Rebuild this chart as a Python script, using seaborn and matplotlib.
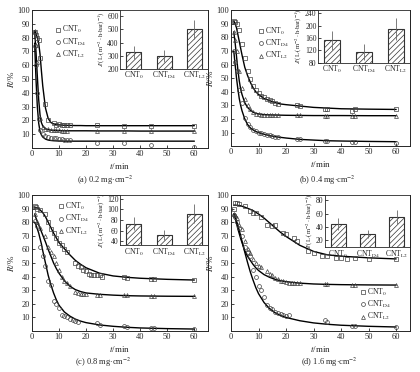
import numpy as np
import seaborn as sns
import matplotlib.pyplot as plt

# common time grid of the fitted curves (min)
fit_t = [1, 1.5, 2, 2.5, 3, 3.5, 4, 5, 6, 7, 8, 9, 10, 12, 14, 16, 18, 20, 25, 30, 35, 40, 50, 60]

# ---- (a) 0.2 mg/cm2
a_fit0 = [85, 83, 80, 76, 68, 56, 45, 29, 21.5, 18.5, 17.5, 17, 16.8, 16.5, 16.4, 16.3, 16.3, 16.2, 16.2, 16.2, 16.2, 16.2, 16.2, 16.2]
a_fitd4 = [76, 50, 30, 18, 12, 9.5, 8, 6.5, 5.8, 5.5, 5.3, 5.2, 5.1, 5, 5, 5, 5, 5, 5, 5, 5, 5, 5, 5]
a_fitl2 = [85, 70, 52, 35, 24, 18.5, 16, 14, 13.3, 13, 12.8, 12.7, 12.6, 12.5, 12.5, 12.5, 12.5, 12.5, 12.4, 12.4, 12.4, 12.3, 12.3, 12.3]
a_t0 = [1, 1.5, 2, 2.5, 3, 5, 6, 8, 9, 10, 11, 12, 13, 14, 24, 34, 44, 60]
a_r0 = [84, 82, 80, 78, 65, 32, 20, 18, 17, 17.5, 17, 16.5, 17, 16.8, 16.5, 16, 16, 16]
a_td4 = [1, 1.5, 2, 2.5, 3, 4, 5, 6, 7, 8, 9, 10, 11, 12, 13, 14, 24, 34, 44, 60]
a_rd4 = [74, 60, 40, 21, 13, 10, 8.5, 8, 7.5, 7, 7, 6.5, 6.5, 6, 6, 6, 4, 3.5, 2, 1]
a_tl2 = [1, 1.5, 2, 3, 4, 5, 6, 7, 8, 9, 10, 11, 12, 13, 24, 34, 44, 60]
a_rl2 = [85, 75, 62, 22, 15, 14, 13.5, 13, 13, 13, 12.8, 12.5, 12.5, 12.5, 12.5, 12, 12, 12]

# ---- (b) 0.4 mg/cm2
b_fit0 = [92, 90, 87, 82, 77, 72, 67, 58, 52, 47, 43, 40, 38, 35, 33.5, 32, 31, 30.5, 29.5, 28.5, 28, 27.5, 27.2, 27]
b_fitd4 = [70, 60, 50, 42, 35, 30, 26, 20, 16, 13.5, 12, 10.8, 10, 8.8, 7.8, 7, 6.5, 6, 5, 4.5, 4, 3.8, 3.5, 3.3]
b_fitl2 = [84, 76, 66, 56, 48, 42, 38, 32, 28.5, 26.5, 25, 24.2, 23.7, 23.2, 23, 22.9, 22.8, 22.7, 22.6, 22.5, 22.5, 22.5, 22.4, 22.4]
b_t = [1, 1.5, 2, 3, 4, 5, 6, 7, 8, 9, 10, 11, 12, 13, 14, 15, 16, 17, 24, 25, 34, 35, 44, 45, 60]
b_r0 = [92, 91, 90, 85, 75, 65, 55, 49, 44, 41, 39, 37, 36, 35, 34, 33, 32, 31, 30, 29.5, 27, 27, 26, 27, 27]
b_rd4 = [70, 62, 55, 41, 32, 21, 16, 14, 12, 11, 10, 9.5, 9, 8.5, 8, 7.5, 7, 6.5, 5.5, 5, 4, 3.5, 3, 3, 2]
b_rl2 = [84, 78, 70, 55, 43, 35, 30, 27, 25, 24, 23.5, 23, 23, 23, 23, 23, 23, 23, 23, 23, 22.5, 22.5, 22.5, 22.5, 22]

# ---- (c) 0.8 mg/cm2
c_fit0 = [91, 90.8, 90.5, 90, 89, 88, 87, 84, 80, 76, 72, 68.5, 65, 60.5, 56, 52, 49, 46.5, 42.5, 40.5, 39.5, 38.8, 38, 37.5]
c_fitd4 = [80, 78, 75, 72, 68, 64, 59, 50, 41, 34, 28, 23, 19, 14, 11, 8.8, 7.3, 6.2, 4.5, 3.5, 2.8, 2.3, 1.8, 1.5]
c_fitl2 = [86, 83, 80.5, 78, 75.5, 73, 70.5, 65.5, 60, 55, 50, 46, 42.5, 37, 33, 30.5, 29, 28, 27, 26.4, 26, 25.8, 25.6, 25.5]
c_t0 = [1, 1.5, 2, 3, 5, 6, 7, 8, 9, 10, 11, 12, 13, 16, 17, 18, 19, 20, 21, 22, 23, 24, 25, 26, 34, 35, 44, 45, 60]
c_r0 = [92, 91, 90, 89, 86, 80, 75, 72, 68, 65, 63, 60, 58, 50, 48, 47, 45, 44, 42, 41.5, 41, 41, 41.5, 39.5, 40, 39, 38, 38, 37.5]
c_td4 = [1, 2, 3, 4, 5, 6, 7, 8, 9, 10, 11, 12, 13, 14, 15, 16, 17, 24, 25, 34, 35, 44, 45, 60]
c_rd4 = [81, 77, 62, 55, 48, 37, 34, 22, 20, 17, 12, 11, 10, 9, 8, 7.5, 7, 6, 4.5, 3.5, 3, 2, 2, 1.5]
c_tl2 = [1, 2, 3, 5, 6, 7, 8, 9, 10, 11, 12, 13, 14, 16, 17, 18, 19, 20, 24, 25, 34, 35, 44, 45, 60]
c_rl2 = [86, 80, 76, 70, 62, 58, 55, 50, 45, 40, 37, 35, 33, 29, 28, 27.5, 27, 27, 26.5, 26.5, 26.5, 26.5, 26, 26, 26]

# ---- (d) 1.6 mg/cm2
d_fit0 = [92.5, 92.5, 92.4, 92.3, 92.2, 92, 91.7, 91, 90.2, 89.4, 88.5, 87.3, 86, 83, 79.5, 76, 72.5, 69.5, 63, 58.5, 56, 55, 53.8, 53]
d_fitd4 = [86, 84, 81, 77.5, 74, 70, 66, 58, 50.5, 43.5, 37.5, 32, 27.5, 21, 16.5, 13.5, 11.5, 10, 7.6, 6, 5, 4.3, 3.5, 3]
d_fitl2 = [86, 83, 79, 75, 71.5, 68, 65, 59, 55, 52, 49, 46.5, 44.5, 41.5, 39.5, 38, 37, 36.3, 35.2, 34.6, 34.3, 34.1, 33.9, 33.8]
d_t0 = [1, 1.5, 2, 3, 5, 7, 8, 9, 11, 13, 15, 16, 19, 20, 23, 24, 28, 30, 33, 35, 38, 40, 42, 45, 50, 60]
d_r0 = [90, 94, 94, 93, 92, 88, 87, 87, 84, 78, 77, 78, 72, 71, 68, 66, 59, 57, 55, 55, 54, 54, 53, 54, 53, 53]
d_td4 = [1, 1.5, 2, 3, 4, 5, 6, 7, 8, 9, 10, 11, 12, 13, 14, 15, 16, 17, 18, 19, 20, 21, 34, 35, 44, 45, 60]
d_rd4 = [85, 84, 80, 76, 70, 62, 58, 55, 45, 40, 33, 30, 25, 19, 17, 16, 14, 13, 12.5, 12, 11, 12, 8, 7, 4, 3.5, 3]
d_tl2 = [1, 1.5, 2, 3, 4, 5, 6, 7, 8, 9, 10, 11, 13, 14, 15, 16, 17, 18, 19, 20, 21, 22, 23, 24, 25, 34, 35, 44, 45, 60]
d_rl2 = [86, 85, 83, 78, 75, 66, 60, 57, 53, 50, 48, 47, 44, 42, 41, 39, 38, 37, 36.5, 36, 35.5, 35, 35, 35, 35, 34.5, 34.5, 34, 34, 34]

# ---- flux insets
membranes = [r'CNT$_0$', r'CNT$_{\rm D4}$', r'CNT$_{\rm L2}$']
a_flux, a_err = [325, 300, 500], [50, 45, 75]
b_flux, b_err = [152, 115, 190], [30, 25, 35]
c_flux, c_err = [73, 52, 92], [12, 10, 17]
d_flux, d_err = [45, 30, 55], [9, 6, 10]

captions = [r'(a) 0.2 mg$\cdot$cm$^{-2}$', r'(b) 0.4 mg$\cdot$cm$^{-2}$',
            r'(c) 0.8 mg$\cdot$cm$^{-2}$', r'(d) 1.6 mg$\cdot$cm$^{-2}$']

sns.set_theme(style='ticks')
plt.rcParams['font.family'] = ['Liberation Serif', 'DejaVu Serif']
plt.rcParams['mathtext.fontset'] = 'stix'
plt.rcParams['hatch.linewidth'] = 0.5
plt.rcParams['axes.linewidth'] = 0.7

fig = plt.figure(figsize=(4.2, 3.72), dpi=100)

main_pos = [[0.076, 0.602, 0.419, 0.371], [0.55, 0.607, 0.426, 0.366],
            [0.076, 0.110, 0.419, 0.366], [0.55, 0.110, 0.426, 0.366]]
inset_pos = [[0.286, 0.815, 0.2095, 0.159], [0.757, 0.831, 0.219, 0.142],
             [0.286, 0.341, 0.2095, 0.134], [0.774, 0.336, 0.202, 0.140]]
legend_loc = [('upper left', (0.11, 0.93)), ('upper left', (0.13, 0.92)),
              ('upper left', (0.13, 0.99)), ('lower left', (0.70, 0.03))]
caption_xy = [(0.25, 0.516), (0.78, 0.516), (0.245, 0.027), (0.785, 0.027)]

panels = [
    (a_fit0, a_fitd4, a_fitl2, a_t0, a_r0, a_td4, a_rd4, a_tl2, a_rl2, a_flux, a_err, [200, 300, 400, 500, 600], (200, 650)),
    (b_fit0, b_fitd4, b_fitl2, b_t, b_r0, b_t, b_rd4, b_t, b_rl2, b_flux, b_err, [80, 120, 160, 200, 240], (80, 250)),
    (c_fit0, c_fitd4, c_fitl2, c_t0, c_r0, c_td4, c_rd4, c_tl2, c_rl2, c_flux, c_err, [40, 60, 80, 100, 120], (33, 126)),
    (d_fit0, d_fitd4, d_fitl2, d_t0, d_r0, d_td4, d_rd4, d_tl2, d_rl2, d_flux, d_err, [20, 40, 60, 80], (10, 88)),
]

for i, p in enumerate(panels):
    fit0, fitd4, fitl2, t0, r0, td4, rd4, tl2, rl2, flux, err, jticks, jlim = p
    ax = fig.add_axes(main_pos[i])
    for fit in (fit0, fitd4, fitl2):
        sns.lineplot(x=fit_t, y=fit, ax=ax, color='black', lw=1.0, sort=False)
    mk = dict(ls='none', ms=2.8, mfc='none', mew=0.5, color='0.25')
    ax.plot(t0, r0, marker='s', label=membranes[0], **mk)
    ax.plot(td4, rd4, marker='o', label=membranes[1], **mk)
    ax.plot(tl2, rl2, marker='^', label=membranes[2], **mk)
    ax.set_xlim(0, 65)
    ax.set_ylim(0, 100)
    ax.set_xticks([0, 10, 20, 30, 40, 50, 60])
    ax.set_yticks(range(10, 101, 10))
    ax.tick_params(direction='in', length=2, width=0.6, labelsize=6, pad=1.5)
    ax.set_xlabel(r'$t$/min', fontsize=6.5, labelpad=2)
    ax.set_ylabel(r'$R$/%', fontsize=6.5, labelpad=1)
    loc, anchor = legend_loc[i]
    ax.legend(loc=loc, bbox_to_anchor=anchor, frameon=False, fontsize=5.5,
              handlelength=0.5, handletextpad=0.25, labelspacing=0.15, borderpad=0.1)
    fig.text(caption_xy[i][0], caption_xy[i][1], captions[i], ha='center', va='center', fontsize=6)

    ins = fig.add_axes(inset_pos[i])
    sns.barplot(x=membranes, y=flux, ax=ins, color='white', width=0.5,
                edgecolor='black', linewidth=0.8, errorbar=None)
    for bar in ins.patches:
        bar.set_hatch('//////')
        bar.set_edgecolor('0.2')
    ins.errorbar(range(3), flux, yerr=err, fmt='none', ecolor='0.4', elinewidth=0.6, capsize=0)
    ins.set_ylim(*jlim)
    ins.set_yticks(jticks)
    ins.set_xlim(-0.45, 2.45)
    ins.tick_params(direction='in', length=2, width=0.6, labelsize=5.5, pad=1)
    ins.set_ylabel(r'$J$/(L$\cdot$(m$^{-2}\cdot$h$\cdot$bar)$^{-1}$)', fontsize=4.8, labelpad=0.5)
    for s in ins.spines.values():
        s.set_linewidth(0.6)

fig.savefig('out.png', dpi=100)
